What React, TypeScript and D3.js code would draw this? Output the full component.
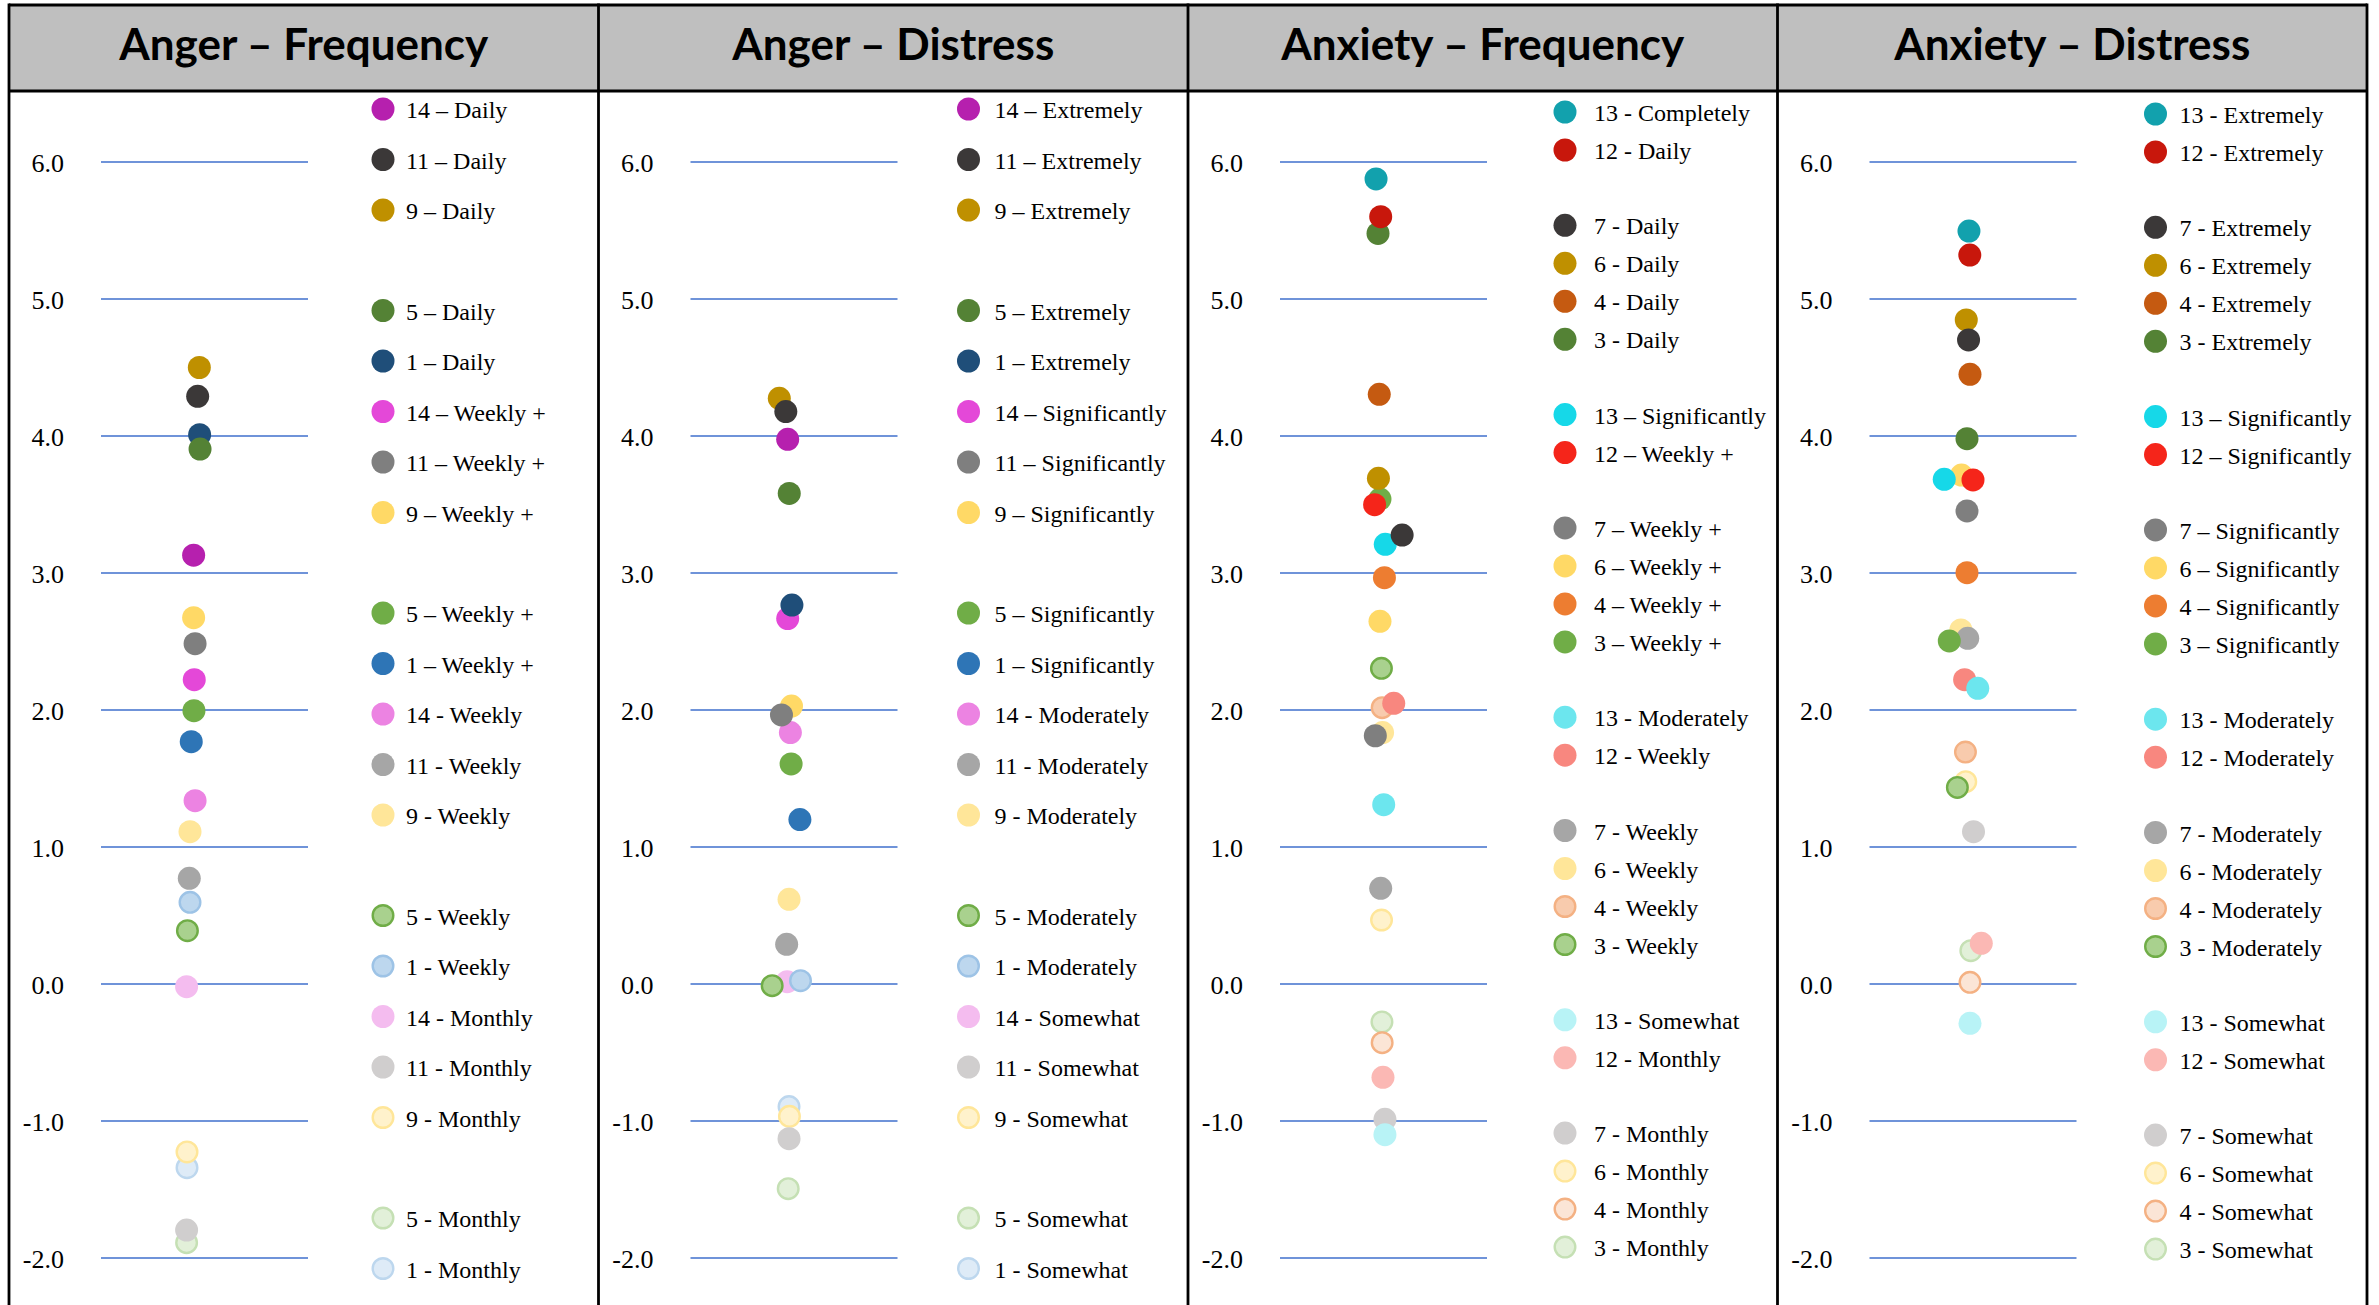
import React from "react";
import * as d3 from "d3";

// ---------- DATA ----------
const panelTitles = ["Anger – Frequency", "Anger – Distress", "Anxiety – Frequency", "Anxiety – Distress"];
const yTicks = [-2, -1, 0, 1, 2, 3, 4, 5, 6];

const angerFreqLabels = [
  "14 – Daily", "11 – Daily", "9 – Daily", "5 – Daily", "1 – Daily",
  "14 – Weekly +", "11 – Weekly +", "9 – Weekly +", "5 – Weekly +", "1 – Weekly +",
  "14 - Weekly", "11 - Weekly", "9 - Weekly", "5 - Weekly", "1 - Weekly",
  "14 - Monthly", "11 - Monthly", "9 - Monthly", "5 - Monthly", "1 - Monthly",
];
const angerFreqValues = [3.13, 4.29, 4.5, 3.905, 4.01, 2.221, 2.484, 2.674, 1.995, 1.769, 1.338, 0.771, 1.112, 0.389, 0.596, -0.02, -1.796, -1.226, -1.888, -1.341];
const angerFreqX = [0.895, 0.934, 0.95, 0.957, 0.953, 0.901, 0.909, 0.895, 0.898, 0.872, 0.909, 0.853, 0.86, 0.835, 0.86, 0.827, 0.827, 0.831, 0.827, 0.831];

const angerDistLabels = [
  "14 – Extremely", "11 – Extremely", "9 – Extremely", "5 – Extremely", "1 – Extremely",
  "14 – Significantly", "11 – Significantly", "9 – Significantly", "5 – Significantly", "1 – Significantly",
  "14 - Moderately", "11 - Moderately", "9 - Moderately", "5 - Moderately", "1 - Moderately",
  "14 - Somewhat", "11 - Somewhat", "9 - Somewhat", "5 - Somewhat", "1 - Somewhat",
];
const angerDistValues = [3.976, 4.178, 4.275, 3.581, 2.766, 2.667, 1.964, 2.029, 1.606, 1.2, 1.835, 0.29, 0.618, -0.012, 0.024, 0.017, -1.129, -0.966, -1.494, -0.895];
const angerDistX = [0.939, 0.921, 0.858, 0.954, 0.98, 0.939, 0.879, 0.976, 0.972, 1.057, 0.965, 0.929, 0.952, 0.789, 1.063, 0.934, 0.952, 0.956, 0.944, 0.952];

const anxFreqLabels = [
  "13 - Completely", "12 - Daily", "7 - Daily", "6 - Daily", "4 - Daily", "3 - Daily",
  "13 – Significantly", "12 – Weekly +", "7 – Weekly +", "6 – Weekly +", "4 – Weekly +", "3 – Weekly +",
  "13 - Moderately", "12 - Weekly", "7 - Weekly", "6 - Weekly", "4 - Weekly", "3 - Weekly",
  "13 - Somewhat", "12 - Monthly", "7 - Monthly", "6 - Monthly", "4 - Monthly", "3 - Monthly",
];
const anxFreqValues = [5.876, 5.601, 3.277, 3.691, 4.304, 5.479, 3.209, 3.499, 1.812, 2.647, 2.966, 3.54, 1.309, 2.049, 0.698, 1.835, 2.017, 2.304, -1.1, -0.681, -0.988, 0.467, -0.428, -0.277];
const anxFreqX = [0.928, 0.973, 1.18, 0.951, 0.959, 0.947, 1.017, 0.914, 0.921, 0.966, 1.009, 0.966, 1.002, 1.099, 0.973, 0.991, 0.987, 0.98, 1.014, 0.995, 1.014, 0.981, 0.987, 0.985];

const anxDistLabels = [
  "13 - Extremely", "12 - Extremely", "7 - Extremely", "6 - Extremely", "4 - Extremely", "3 - Extremely",
  "13 – Significantly", "12 – Significantly", "7 – Significantly", "6 – Significantly", "4 – Significantly", "3 – Significantly",
  "13 - Moderately", "12 - Moderately", "7 - Moderately", "6 - Moderately", "4 - Moderately", "3 - Moderately",
  "13 - Somewhat", "12 - Somewhat", "7 - Somewhat", "6 - Somewhat", "4 - Somewhat", "3 - Somewhat",
];
const anxDistValues = [5.496, 5.321, 4.701, 4.847, 4.45, 3.98, 3.684, 3.679, 3.453, 3.715, 3.002, 2.504, 2.158, 2.221, 2.523, 2.584, 1.693, 1.435, -0.287, 0.297, 1.112, 1.477, 0.012, 0.243];
const anxDistX = [0.961, 0.969, 0.957, 0.935, 0.971, 0.942, 0.722, 1.0, 0.942, 0.889, 0.942, 0.771, 1.046, 0.919, 0.949, 0.883, 0.927, 0.849, 0.971, 1.08, 1.005, 0.93, 0.971, 0.979];

const angerFills = [
  "#B620AE", "#3B3838", "#BF9000", "#548235", "#1F4E79",
  "#E448D8", "#7F7F7F", "#FFD966", "#70AD47", "#2E75B6",
  "#EC83E2", "#A6A6A6", "#FFE699", "#A9D18E", "#BDD7EE",
  "#F4BCEF", "#D0CECE", "#FFF2CC", "#E2F0D9", "#DEEBF7",
];
const angerStrokes = [
  "", "", "", "", "",
  "", "", "", "", "",
  "", "", "", "#70AD47", "#9DC3E6",
  "", "", "#FFE699", "#C5E0B4", "#BDD7EE",
];
const angerGroups = [0, 0, 0, 1, 1, 1, 1, 1, 2, 2, 2, 2, 2, 3, 3, 3, 3, 3, 4, 4];

const anxFills = [
  "#12A1AD", "#C8170C", "#3B3838", "#BF9000", "#C55A11", "#548235",
  "#16D8E8", "#F5251A", "#7F7F7F", "#FFD966", "#ED7D31", "#70AD47",
  "#6CE6EE", "#F8877F", "#A6A6A6", "#FFE699", "#F8CBAD", "#A9D18E",
  "#B8F3F6", "#FBB8B4", "#D0CECE", "#FFF2CC", "#FBE5D6", "#E2F0D9",
];
const anxStrokes = [
  "", "", "", "", "", "",
  "", "", "", "", "", "",
  "", "", "", "", "#F4B183", "#70AD47",
  "", "", "", "#FFE699", "#F4B183", "#C5E0B4",
];
const anxGroups = [0, 0, 1, 1, 1, 1, 2, 2, 3, 3, 3, 3, 4, 4, 5, 5, 5, 5, 6, 6, 7, 7, 7, 7];

// ---------- LAYOUT ----------
const W = 2379;
const H = 1305;
const panelLeft0 = 9;
const panelW = 589.5;
const headerTop = 5;
const headerBottom = 91;
const SERIF = "'Liberation Serif', 'Times New Roman', Times, serif";

const panels = [
  { labels: angerFreqLabels, values: angerFreqValues, xs: angerFreqX, fills: angerFills, strokes: angerStrokes, groups: angerGroups, legTop: 109, legStep: 50.5, legGap: 50, mx: 374, tx: 397 },
  { labels: angerDistLabels, values: angerDistValues, xs: angerDistX, fills: angerFills, strokes: angerStrokes, groups: angerGroups, legTop: 109, legStep: 50.5, legGap: 50, mx: 370, tx: 396 },
  { labels: anxFreqLabels, values: anxFreqValues, xs: anxFreqX, fills: anxFills, strokes: anxStrokes, groups: anxGroups, legTop: 112, legStep: 38, legGap: 37.3, mx: 377, tx: 406 },
  { labels: anxDistLabels, values: anxDistValues, xs: anxDistX, fills: anxFills, strokes: anxStrokes, groups: anxGroups, legTop: 114, legStep: 38, legGap: 37.3, mx: 378, tx: 402 },
];

const y = d3.scaleLinear().domain([-2, 6]).range([1258, 162]);
const R = 11.5;

function Marker({ cx, cy, fill, stroke }: { cx: number; cy: number; fill: string; stroke: string }) {
  if (stroke) {
    return <circle cx={cx} cy={cy} r={R - 1.2} fill={fill} stroke={stroke} strokeWidth={2.4} />;
  }
  return <circle cx={cx} cy={cy} r={R} fill={fill} />;
}

export default function App() {
  return (
    <svg
      width={W}
      height={H}
      style={{ position: "absolute", left: 0, top: 0, background: "#fff" }}
      xmlns="http://www.w3.org/2000/svg"
    >
      <rect x={0} y={0} width={W} height={H} fill="#fff" />
      {panels.map((p, pi) => {
        const left = panelLeft0 + pi * panelW;
        const x = d3.scaleLinear().domain([0, 2]).range([left + 92, left + 299]);
        const order = d3.range(p.values.length).reverse();
        return (
          <g key={pi}>
            <rect x={left} y={headerTop} width={panelW} height={headerBottom - headerTop} fill="#BFBFBF" />
            <text
              x={left + panelW / 2}
              y={60}
              textAnchor="middle"
              style={{ fontFamily: "Lato, 'Open Sans', sans-serif", fontWeight: 700, fontSize: 44 }}
              fill="#000"
            >
              {panelTitles[pi]}
            </text>
            {yTicks.map((t) => (
              <g key={t}>
                <line x1={x(0)} x2={x(2)} y1={y(t)} y2={y(t)} stroke="#6F93D9" strokeWidth={1.8} />
                <text
                  x={left + 55}
                  y={y(t) + 10}
                  textAnchor="end"
                  style={{ fontFamily: SERIF, fontSize: 26 }}
                  fill="#000"
                >
                  {t.toFixed(1)}
                </text>
              </g>
            ))}
            {order.map((i) => (
              <Marker key={"d" + i} cx={x(p.xs[i])} cy={y(p.values[i])} fill={p.fills[i]} stroke={p.strokes[i]} />
            ))}
            {p.labels.map((lab, i) => {
              const ly = p.legTop + i * p.legStep + p.groups[i] * p.legGap;
              return (
                <g key={"l" + i}>
                  <Marker cx={left + p.mx} cy={ly} fill={p.fills[i]} stroke={p.strokes[i]} />
                  <text
                    x={left + p.tx}
                    y={ly + 9}
                    style={{ fontFamily: SERIF, fontSize: 24 }}
                    fill="#000"
                  >
                    {lab}
                  </text>
                </g>
              );
            })}
          </g>
        );
      })}
      {/* table borders */}
      <line x1={panelLeft0} x2={panelLeft0 + 4 * panelW} y1={headerTop} y2={headerTop} stroke="#000" strokeWidth={2.8} />
      <line x1={panelLeft0} x2={panelLeft0 + 4 * panelW} y1={headerBottom} y2={headerBottom} stroke="#000" strokeWidth={2.8} />
      {d3.range(5).map((k) => (
        <line
          key={k}
          x1={panelLeft0 + k * panelW}
          x2={panelLeft0 + k * panelW}
          y1={headerTop - 1.4}
          y2={H + 5}
          stroke="#000"
          strokeWidth={2.8}
        />
      ))}
    </svg>
  );
}
